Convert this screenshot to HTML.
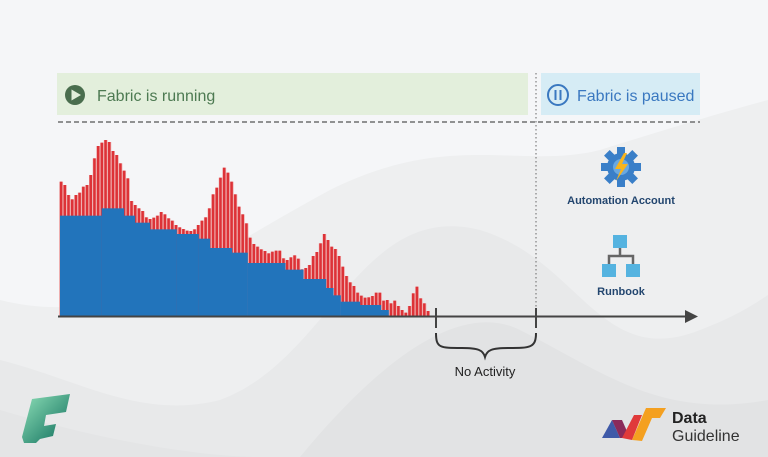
<!DOCTYPE html>
<html><head><meta charset="utf-8"><style>
html,body{margin:0;padding:0;width:768px;height:457px;overflow:hidden;background:#f4f5f7}
svg{display:block}
text{font-family:"Liberation Sans",sans-serif}
</style></head><body>
<svg id="s" width="768" height="457" viewBox="0 0 768 457" xmlns="http://www.w3.org/2000/svg">
<rect width="768" height="457" fill="#f5f6f8"/>
<path d="M0,300 C120,330 200,260 330,190 C450,130 520,170 600,150 C680,125 730,110 768,100 L768,457 L0,457Z" fill="#eeeff0"/>
<path d="M0,360 C80,380 140,420 220,400 C330,360 360,200 480,230 C580,260 600,370 700,330 C740,315 760,300 768,295 L768,457 L0,457Z" fill="#e8e9ea"/>
<path d="M0,410 C100,440 200,457 260,457 L0,457Z" fill="#e4e5e6"/>
<path d="M300,457 C380,360 460,300 520,330 C600,370 660,420 768,400 L768,457Z" fill="#e2e3e4"/>
<rect x="57" y="73" width="471" height="42" fill="#e3efdc"/>
<circle cx="75" cy="95" r="10" fill="#4a6e4e"/>
<path d="M71.5,89.5 L81,95 L71.5,100.5Z" fill="#e3efdc"/>
<text x="97" y="101" font-size="16" fill="#4d7a52">Fabric is running</text>
<rect x="541" y="73" width="159" height="42" fill="#d6ecf5"/>
<circle cx="558" cy="95" r="10" fill="none" stroke="#3a78c0" stroke-width="2"/>
<rect x="554.5" y="90" width="2" height="10" fill="#3a78c0"/><rect x="559.5" y="90" width="2" height="10" fill="#3a78c0"/>
<text x="577" y="101" font-size="16" fill="#3a78c0">Fabric is paused</text>
<line x1="58" y1="122" x2="700" y2="122" stroke="#555" stroke-width="1.3" stroke-dasharray="5,3"/>
<line x1="536" y1="73" x2="536" y2="316" stroke="#666" stroke-width="1" stroke-dasharray="1.5,2.5"/>
<g id="bars" transform="translate(50,130) scale(0.33333)"></g>
<line x1="58" y1="316.5" x2="690" y2="316.5" stroke="#444" stroke-width="2"/>
<path d="M685,310 L698,316.5 L685,323Z" fill="#444"/>
<line x1="436" y1="308" x2="436" y2="328" stroke="#444" stroke-width="2"/>
<line x1="536" y1="308" x2="536" y2="328" stroke="#444" stroke-width="2"/>
<path d="M436,333 C436,348 440,348 462,348 C478,348 483,350 485,357 C487,350 492,348 508,348 C530,348 536,348 536,333" fill="none" stroke="#333" stroke-width="2"/>
<text x="485" y="376" font-size="13" fill="#222" text-anchor="middle">No Activity</text>
<!-- automation icon -->
<g transform="translate(621,167)">
<circle r="14" fill="#3a7fc8"/>
<g fill="#3a7fc8">
<rect x="-4" y="-20" width="8" height="8"/><rect x="-4" y="12" width="8" height="8"/>
<rect x="-20" y="-4" width="8" height="8"/><rect x="12" y="-4" width="8" height="8"/>
<rect x="-4" y="-20" width="8" height="8" transform="rotate(45)"/><rect x="-4" y="12" width="8" height="8" transform="rotate(45)"/>
<rect x="-20" y="-4" width="8" height="8" transform="rotate(45)"/><rect x="12" y="-4" width="8" height="8" transform="rotate(45)"/>
</g>
<circle r="8" fill="#6aa8e0"/>
<path d="M3,-14 L-6,2 L0,2 L-5,14 L7,-3 L1,-3 L6,-14Z" fill="#f8b41c"/>
</g>
<text x="621" y="204" font-size="11" font-weight="bold" fill="#23466f" text-anchor="middle">Automation Account</text>
<g>
<rect x="613" y="235" width="14" height="13" fill="#55b3e0"/>
<rect x="602" y="264" width="14" height="13" fill="#55b3e0"/>
<rect x="626" y="264" width="14" height="13" fill="#55b3e0"/>
<path d="M620,248 V256 M609,264 V256 H633 V264" stroke="#666" stroke-width="2.5" fill="none"/>
</g>
<text x="621" y="295" font-size="11" font-weight="bold" fill="#23466f" text-anchor="middle">Runbook</text>
<!-- fabric logo -->
<defs><linearGradient id="fg" x1="0" y1="0" x2="1" y2="1"><stop offset="0" stop-color="#8fe0b8"/><stop offset="1" stop-color="#0b6b5a"/></linearGradient></defs>
<path d="M32,399 L70,394 L66,412 L46,415 L44,426 L56,424 L53,436 L40,439 L36,443 L24,443 L22,437Z" fill="url(#fg)"/>
<!-- data guideline logo -->
<path d="M602,438 L612,420 L620,438Z" fill="#3f5aa8"/>
<path d="M612,420 L622,420 L630,438 L620,438Z" fill="#8a2a5a"/>
<path d="M622,438 L634,415 L642,415 L632,440Z" fill="#e03a3a"/>
<path d="M632,440 L646,408 L666,408 L660,418 L652,418 L642,441Z" fill="#f4a020"/>
<text x="672" y="423" font-size="16" font-weight="bold" fill="#222">Data</text>
<text x="672" y="441" font-size="16" fill="#333">Guideline</text>
</svg>
<script>
var tops=[155,165,195,208,195,188,170,165,135,85,48,38,30,36,63,75,100,122,145,213,225,235,243,262,267,263,257,246,253,265,272,285,292,297,302,303,298,285,272,262,235,193,173,143,113,128,155,193,230,253,280,323,342,350,358,363,370,365,362,362,385,390,382,376,386,418,414,405,378,366,340,312,330,350,357,378,410,438,457,468,488,497,503,502,498,488,488,512,510,520,512,528,540,548,528,490,470,505,520,543];
var blue=[[30,155,257],[155,222,235],[222,255,257],[255,300,278],[300,380,298],[380,446,312],[446,480,326],[480,546,354],[546,593,368],[593,706,399],[706,760,419],[760,828,447],[828,850,474],[850,872,496],[872,930,515],[930,993,525],[993,1016,540]];
var base=557,h='';
for(var i=0;i<tops.length;i++){var x=28+11.12*i;
h+='<rect x="'+x+'" y="'+tops[i]+'" width="11.12" height="'+(base-tops[i])+'" fill="#eeaaaa"/>';
h+='<rect x="'+(x+1.5)+'" y="'+tops[i]+'" width="7.5" height="'+(base-tops[i])+'" fill="#dd3237"/>';}
blue.forEach(function(b){h+='<rect x="'+b[0]+'" y="'+b[2]+'" width="'+(b[1]-b[0]+0.5)+'" height="'+(base-b[2])+'" fill="#2274bb"/>';});
document.getElementById('bars').innerHTML=h;
</script>
</body></html>
